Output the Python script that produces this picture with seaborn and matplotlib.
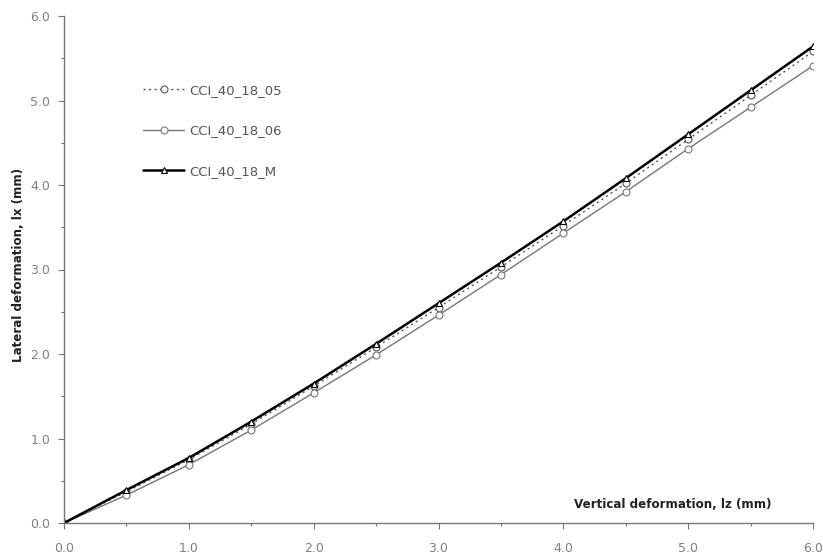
import matplotlib
matplotlib.use("Agg")
import matplotlib.pyplot as plt
import seaborn as sns
import numpy as np
import pandas as pd
from matplotlib.ticker import MultipleLocator

# data
x_vals = [0.0, 0.5, 1.0, 1.5, 2.0, 2.5, 3.0, 3.5, 4.0, 4.5, 5.0, 5.5, 6.0]
cci_05 = [0.0, 0.37, 0.75, 1.17, 1.62, 2.08, 2.55, 3.03, 3.52, 4.02, 4.54, 5.06, 5.58]
cci_06 = [0.0, 0.33, 0.69, 1.10, 1.54, 1.99, 2.46, 2.94, 3.43, 3.92, 4.43, 4.92, 5.41]
cci_m = [0.0, 0.39, 0.77, 1.20, 1.65, 2.12, 2.60, 3.08, 3.57, 4.08, 4.60, 5.12, 5.64]
series_names = ["CCI_40_18_05", "CCI_40_18_06", "CCI_40_18_M"]

df = pd.DataFrame({"x": x_vals * 3,
                   "y": cci_05 + cci_06 + cci_m,
                   "series": np.repeat(series_names, len(x_vals))})

sns.set_style("white")
plt.rcParams['font.family'] = ['DejaVu Sans']

fig = plt.figure(figsize=(8.23, 5.59), dpi=100)
ax = fig.add_axes([64 / 823, 1 - 523 / 559, (813 - 64) / 823, (523 - 16) / 559])

styles = {
    "CCI_40_18_05": dict(color="#555555", lw=1.0, ls=(0, (1.5, 2.5)), marker="o", ms=5),
    "CCI_40_18_06": dict(color="#777777", lw=1.0, ls="-", marker="o", ms=5),
    "CCI_40_18_M": dict(color="black", lw=1.8, ls="-", marker="^", ms=5),
}

for name in series_names:
    sub = df[df.series == name]
    st = styles[name]
    sns.lineplot(data=sub, x="x", y="y", ax=ax, label=name, color=st["color"],
                 linewidth=st["lw"], linestyle=st["ls"], marker=st["marker"],
                 markersize=st["ms"], markerfacecolor="white",
                 markeredgecolor=st["color"], markeredgewidth=0.8)

ax.set_xlim(0, 6)
ax.set_ylim(0, 6)
ax.xaxis.set_major_locator(MultipleLocator(1))
ax.xaxis.set_minor_locator(MultipleLocator(0.5))
ax.yaxis.set_major_locator(MultipleLocator(1))
ax.yaxis.set_minor_locator(MultipleLocator(0.5))
ax.xaxis.set_major_formatter(matplotlib.ticker.FormatStrFormatter("%.1f"))
ax.yaxis.set_major_formatter(matplotlib.ticker.FormatStrFormatter("%.1f"))

for s in ["top", "right"]:
    ax.spines[s].set_visible(False)
for s in ["left", "bottom"]:
    ax.spines[s].set_color("#777777")
    ax.spines[s].set_linewidth(1.0)

ax.tick_params(which="both", direction="out", colors="#777777", labelcolor="#808080",
               labelsize=9, bottom=True, left=True)
ax.tick_params(which="major", length=4, width=0.8)
ax.tick_params(which="minor", length=2, width=0.8)
ax.tick_params(axis="x", which="major", pad=10)
ax.tick_params(axis="y", which="major", pad=6)

ax.set_xlabel("")
ax.set_ylabel("Lateral deformation, lx (mm)", fontsize=8.6, fontweight="bold", color="#222222")
ax.yaxis.set_label_coords(-0.052, 0.509)
ax.text(0.813, 0.036, "Vertical deformation, lz (mm)", transform=ax.transAxes,
        fontsize=8.6, fontweight="bold", color="#222222", ha="center", va="center")

leg = ax.legend(loc="upper left", bbox_to_anchor=(0.09, 0.89), frameon=False,
                fontsize=9.5, labelspacing=2.1, handlelength=3.1, handletextpad=0.4)
for t in leg.get_texts():
    t.set_color("#555555")

fig.savefig("out.png", dpi=100)
